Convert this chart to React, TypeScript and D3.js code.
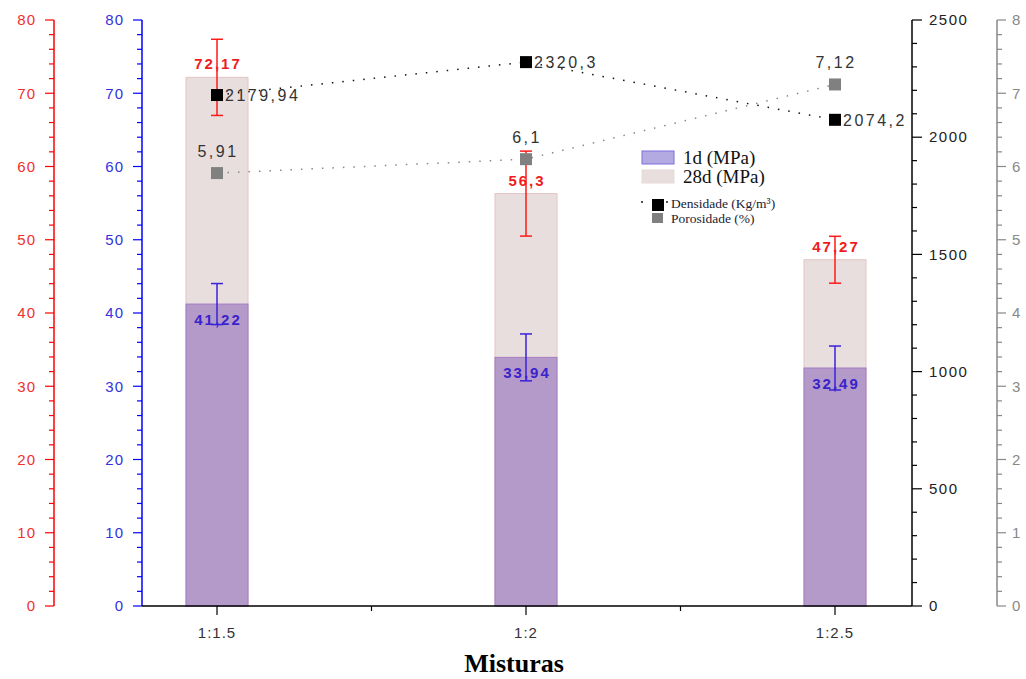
import React from 'react';
import * as d3 from 'd3';

const categories = ['1:1.5', '1:2', '1:2.5'];
const res28 = [72.17, 56.3, 47.27];
const err28 = [5.2, 5.8, 3.2];
const res1 = [41.22, 33.94, 32.49];
const err1 = [2.8, 3.2, 3.0];
const density = [2179.94, 2320.3, 2074.2];
const porosity = [5.91, 6.1, 7.12];

const fmt = (v: number) => String(v).replace('.', ',');

const W = 1026;
const H = 679;
const top = 20;
const bottom = 606;

export default function App() {
  // scales
  const x = d3.scalePoint<string>().domain(categories).range([217, 835]);
  const yMpa = d3.scaleLinear().domain([0, 80]).range([bottom, top]);
  const yDens = d3.scaleLinear().domain([0, 2500]).range([bottom, top]);
  const yPor = d3.scaleLinear().domain([0, 8]).range([bottom, top]);

  const barW = 62;
  const capW = 12;
  const sans = 'Arial, "Liberation Sans", sans-serif';
  const serif = '"Times New Roman", "Liberation Serif", serif';

  const densLine = d3.line<number>()
    .x((_, i) => x(categories[i])!)
    .y(d => yDens(d));
  const porLine = d3.line<number>()
    .x((_, i) => x(categories[i])!)
    .y(d => yPor(d));

  // left axis helper (ticks to the left of the line)
  const leftAxis = (ax: number, color: string, labelColor: string) => (
    <g>
      <line x1={ax} x2={ax} y1={top} y2={bottom} stroke={color} strokeWidth={1.5} />
      {d3.range(0, 81, 2).map(v => (
        <line key={v} x1={ax} x2={ax - (v % 10 === 0 ? 9 : 5)} y1={yMpa(v)} y2={yMpa(v)}
          stroke={color} strokeWidth={1.2} />
      ))}
      {yMpa.ticks(8).map(v => (
        <text key={'t' + v} x={ax - 18} y={yMpa(v)} dy="0.35em" textAnchor="end"
          fontFamily={sans} fontSize={15} letterSpacing={1} fill={labelColor}>{v}</text>
      ))}
    </g>
  );

  const bx = 142;
  const rx = 912;
  const gx = 997;

  return (
    <div style={{ position: 'fixed', left: 0, top: 0 }}>
      <svg width={W} height={H} style={{ display: 'block', background: '#fff' }}>
        {/* 28d bars */}
        {res28.map((v, i) => (
          <rect key={'b28' + i} x={x(categories[i])! - barW / 2} y={yMpa(v)} width={barW}
            height={bottom - yMpa(v)} fill="#e9dede" stroke="#e4c4c4" strokeWidth={1} />
        ))}
        {/* 1d bars */}
        {res1.map((v, i) => (
          <rect key={'b1' + i} x={x(categories[i])! - barW / 2} y={yMpa(v)} width={barW}
            height={bottom - yMpa(v)} fill="#b39ac8" stroke="#a47cc4" strokeWidth={1} />
        ))}

        {/* value labels */}
        {res28.map((v, i) => (
          <text key={'l28' + i} x={x(categories[i])! + 1} y={yMpa(v) - 8} textAnchor="middle"
            fontFamily={sans} fontWeight="bold" fontSize={15} letterSpacing={2}
            fill="#ee1c1c">{fmt(v)}</text>
        ))}
        {res1.map((v, i) => (
          <text key={'l1' + i} x={x(categories[i])! + 1} y={yMpa(v) + 21} textAnchor="middle"
            fontFamily={sans} fontWeight="bold" fontSize={15} letterSpacing={2}
            fill="#3a22cc">{fmt(v)}</text>
        ))}

        {/* error bars */}
        {res28.map((v, i) => {
          const cx = x(categories[i])!;
          const y1 = yMpa(v + err28[i]);
          const y2 = yMpa(v - err28[i]);
          return (
            <g key={'e28' + i} stroke="#ff1a1a" strokeWidth={1.5}>
              <line x1={cx} x2={cx} y1={y1} y2={y2} />
              <line x1={cx - capW / 2} x2={cx + capW / 2} y1={y1} y2={y1} />
              <line x1={cx - capW / 2} x2={cx + capW / 2} y1={y2} y2={y2} />
            </g>
          );
        })}
        {res1.map((v, i) => {
          const cx = x(categories[i])!;
          const y1 = yMpa(v + err1[i]);
          const y2 = yMpa(v - err1[i]);
          return (
            <g key={'e1' + i} stroke="#3a22d8" strokeWidth={1.5}>
              <line x1={cx} x2={cx} y1={y1} y2={y2} />
              <line x1={cx - capW / 2} x2={cx + capW / 2} y1={y1} y2={y1} />
              <line x1={cx - capW / 2} x2={cx + capW / 2} y1={y2} y2={y2} />
            </g>
          );
        })}

        {/* dotted lines */}
        <path d={densLine(density)!} fill="none" stroke="#111" strokeWidth={1.5}
          strokeDasharray="1.5 9" />
        <path d={porLine(porosity)!} fill="none" stroke="#888" strokeWidth={1.5}
          strokeDasharray="1.5 9" />

        {/* markers */}
        {density.map((v, i) => (
          <rect key={'md' + i} x={x(categories[i])! - 6} y={yDens(v) - 6} width={12} height={12}
            fill="#000" />
        ))}
        {porosity.map((v, i) => (
          <rect key={'mp' + i} x={x(categories[i])! - 6} y={yPor(v) - 6} width={12} height={12}
            fill="#808080" />
        ))}
        {density.map((v, i) => (
          <text key={'td' + i} x={x(categories[i])! + 8} y={yDens(v) + 6}
            fontFamily={sans} fontSize={16} letterSpacing={2.5} fill="#333">{fmt(v)}</text>
        ))}
        {porosity.map((v, i) => (
          <text key={'tp' + i} x={x(categories[i])! + 1} y={yPor(v) - 16} textAnchor="middle"
            fontFamily={sans} fontSize={16} letterSpacing={2.5} fill="#333">{fmt(v)}</text>
        ))}

        {/* left axes */}
        {leftAxis(54, '#ff0000', '#ee3030')}
        {leftAxis(bx, '#0000ff', '#3333dd')}

        {/* bottom axis */}
        <line x1={bx} x2={rx} y1={bottom} y2={bottom} stroke="#000" strokeWidth={1.5} />
        {categories.map(c => (
          <g key={c}>
            <line x1={x(c)!} x2={x(c)!} y1={bottom} y2={bottom + 9} stroke="#000" strokeWidth={1.2} />
            <text x={x(c)!} y={bottom + 32} textAnchor="middle" fontFamily={sans} fontSize={15}
              letterSpacing={1} fill="#333">{c}</text>
          </g>
        ))}
        {[0, 1].map(i => {
          const mx = (x(categories[i])! + x(categories[i + 1])!) / 2;
          return <line key={'mx' + i} x1={mx} x2={mx} y1={bottom} y2={bottom + 5} stroke="#000"
            strokeWidth={1.2} />;
        })}
        <text x={(bx + rx) / 2 - 13} y={672} textAnchor="middle" fontFamily={serif}
          fontWeight="bold" fontSize={26} fill="#000">Misturas</text>

        {/* right density axis */}
        <line x1={rx} x2={rx} y1={top} y2={bottom} stroke="#000" strokeWidth={1.5} />
        {d3.range(0, 2501, 100).map(v => (
          <line key={'rd' + v} x1={rx} x2={rx + (v % 500 === 0 ? 10 : 5)} y1={yDens(v)} y2={yDens(v)}
            stroke="#000" strokeWidth={1.2} />
        ))}
        {yDens.ticks(5).map(v => (
          <text key={'rdt' + v} x={rx + 17} y={yDens(v)} dy="0.35em" fontFamily={sans}
            fontSize={15} letterSpacing={1.5} fill="#222">{v}</text>
        ))}

        {/* right porosity axis */}
        <line x1={gx} x2={gx} y1={top} y2={bottom} stroke="#888" strokeWidth={1.5} />
        {d3.range(0, 41).map(k => (
          <line key={'rp' + k} x1={gx} x2={gx + (k % 5 === 0 ? 9 : 5)} y1={yPor(k / 5)}
            y2={yPor(k / 5)} stroke="#888" strokeWidth={1.2} />
        ))}
        {yPor.ticks(8).map(v => (
          <text key={'rpt' + v} x={gx + 15} y={yPor(v)} dy="0.35em" fontFamily={sans}
            fontSize={15} fill="#888">{v}</text>
        ))}

        {/* legend */}
        <g>
          <rect x={642} y={151} width={32} height={13} fill="#b4aae2" stroke="#7a6ee0" strokeWidth={1} />
          <text x={683} y={164} fontFamily={serif} fontSize={19} fill="#111">1d (MPa)</text>
          <rect x={642} y={170} width={32} height={13} fill="#e9dede" stroke="#eadada" strokeWidth={1} />
          <text x={683} y={183} fontFamily={serif} fontSize={19} fill="#111">28d (MPa)</text>
          <circle cx={642} cy={202} r={0.9} fill="#000" />
          <circle cx={667} cy={202} r={0.9} fill="#000" />
          <rect x={652} y={199} width={12} height={12} fill="#000" />
          <text x={671} y={208} fontFamily={serif} fontSize={13.5} fill="#223">Densidade (Kg/m³)</text>
          <rect x={652} y={213} width={11} height={10} fill="#808080" />
          <text x={671} y={223} fontFamily={serif} fontSize={13.5} fill="#223">Porosidade (%)</text>
        </g>
      </svg>
    </div>
  );
}
